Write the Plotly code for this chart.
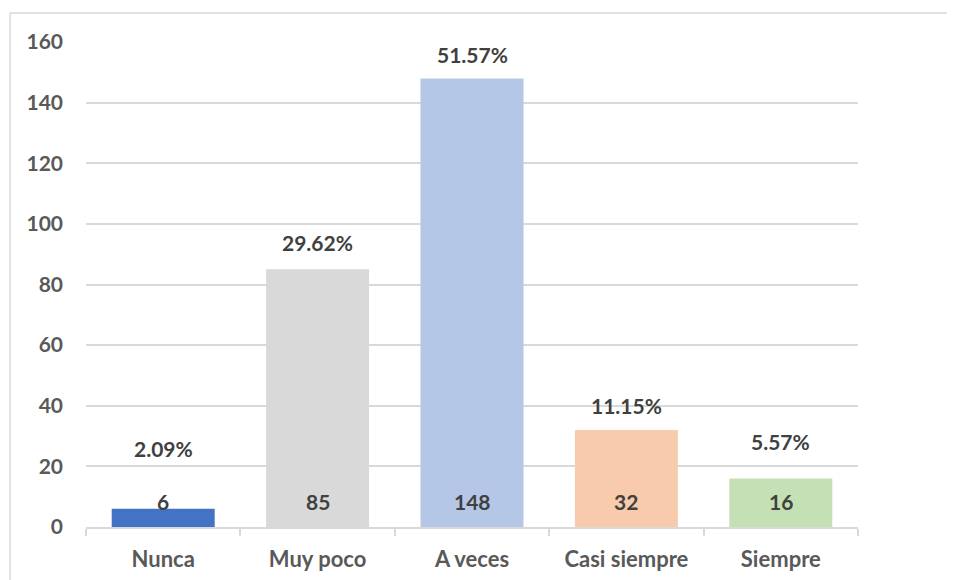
import plotly.graph_objects as go

categories = ["Nunca", "Muy poco", "A veces", "Casi siempre", "Siempre"]
values = [6, 85, 148, 32, 16]
percent_labels = ["2.09%", "29.62%", "51.57%", "11.15%", "5.57%"]
bar_colors = ["#4472C4", "#D9D9D9", "#B4C7E7", "#F8CBAD", "#C5E0B4"]
pct_shifts = [60, 27, 24, 25, 37]
y_ticks = [0, 20, 40, 60, 80, 100, 120, 140, 160]

FONT = "Lato"
SIZE = 21
fig = go.Figure()
fig.add_trace(go.Bar(
    x=categories, y=values, marker=dict(color=bar_colors, line=dict(width=0)),
    hoverinfo="skip",
))

for c, v, p, s in zip(categories, values, percent_labels, pct_shifts):
    fig.add_annotation(x=c, y=v, text=p, showarrow=False, yshift=s,
                       font=dict(family=FONT, size=SIZE, color="#404040", weight="bold"))
    fig.add_annotation(x=c, y=0, text=str(v), showarrow=False, yshift=26,
                       font=dict(family=FONT, size=SIZE, color="#404040", weight="bold"))

# outer chart border (top and left)
fig.add_shape(type="line", xref="paper", yref="paper", x0=-0.0985, x1=1.2, y0=1.0598, y1=1.0598,
              line=dict(color="#D9D9D9", width=1.5))
fig.add_shape(type="line", xref="paper", yref="paper", x0=-0.0985, x1=-0.0985, y0=1.0598, y1=-0.2,
              line=dict(color="#D9D9D9", width=1.5))

fig.update_layout(
    width=955, height=580,
    margin=dict(l=78, r=105, t=34, b=61),
    paper_bgcolor="white", plot_bgcolor="white",
    bargap=0.333, showlegend=False,
    font=dict(family=FONT, size=SIZE, color="#595959"),
    xaxis=dict(
        showline=True, linecolor="#D9D9D9", linewidth=1.5,
        ticks="outside", tickson="boundaries", ticklen=7, tickcolor="#D9D9D9", tickwidth=1.5,
        tickfont=dict(family=FONT, size=22, color="#595959", weight="bold"),
        showgrid=False, ticklabelstandoff=12,
    ),
    yaxis=dict(
        range=[0, 160], tickvals=y_ticks, showgrid=True, gridcolor="#D9D9D9", gridwidth=1.5,
        zeroline=False, showline=False, ticks="",
        tickfont=dict(family=FONT, size=SIZE, color="#595959", weight="bold"),
        ticklabelstandoff=22,
    ),
)

fig.write_html("out.html")
